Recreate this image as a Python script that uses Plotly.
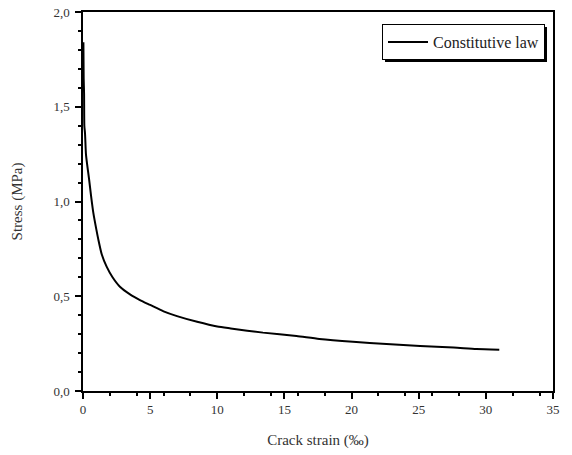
import plotly.graph_objects as go

crack_strain = [0.03, 0.05, 0.08, 0.1, 0.15, 0.22, 0.3, 0.45, 0.6, 0.77, 1.0, 1.14, 1.4, 1.76,
                2.2, 2.75, 3.5, 4.24, 5.0, 6.0, 7.0, 8.5, 10.0, 11.0, 13.4, 15.9, 17.6, 20.1,
                22.6, 25.1, 27.6, 29.3, 31.0]
stress = [1.84, 1.65, 1.57, 1.40, 1.36, 1.25, 1.20, 1.12, 1.03, 0.94, 0.85, 0.80, 0.72, 0.656,
          0.60, 0.55, 0.51, 0.48, 0.454, 0.42, 0.395, 0.365, 0.34, 0.33, 0.308, 0.29, 0.275, 0.26,
          0.248, 0.237, 0.229, 0.221, 0.218]

FONT = "Liberation Serif"
L, R, T, B = 83, 19, 12, 64
W, H = 572, 455
PW, PH = W - L - R, H - T - B


def px(x):
    return (x - L) / PW


def py(y):
    return (H - B - y) / PH


fig = go.Figure()
fig.add_trace(go.Scatter(x=crack_strain, y=stress, mode="lines", name="Constitutive law",
                         line=dict(color="black", width=2, shape="spline", smoothing=0.6)))

axis_common = dict(showline=True, linecolor="black", linewidth=1.5, mirror=True,
                   ticks="outside", ticklen=6, tickwidth=1.5, tickcolor="black",
                   showgrid=False, zeroline=False, automargin=False,
                   tickfont=dict(family=FONT, size=13, color="#333"),
                   minor=dict(ticks="outside", ticklen=3, tickwidth=1.5, tickcolor="black"))

fig.update_xaxes(range=[0, 35], tickvals=[0, 5, 10, 15, 20, 25, 30, 35],
                 title=dict(text="Crack strain (‰)", font=dict(family=FONT, size=15, color="#333"), standoff=18),
                 **axis_common)
fig.update_yaxes(range=[0, 2.0], tickvals=[0, 0.5, 1.0, 1.5, 2.0], tickformat=".1f",
                 ticklabelstandoff=3,
                 title=dict(text="Stress (MPa)", font=dict(family=FONT, size=15, color="#333"), standoff=27),
                 **axis_common)

# legend box: reference approx x 382..544, y 24..52
lx0, ly0 = 382, 24
fig.update_layout(
    width=W, height=H,
    margin=dict(l=L, r=R, t=T, b=B),
    paper_bgcolor="white", plot_bgcolor="white",
    separators=",.",
    showlegend=True,
    legend=dict(x=px(lx0), y=py(ly0), xanchor="left", yanchor="top",
                bgcolor="white", bordercolor="black", borderwidth=1,
                font=dict(family=FONT, size=16, color="#222"),
                itemwidth=40, tracegroupgap=0),
)
# legend drop shadow: offset rectangle behind the legend box
fig.add_shape(type="rect", xref="paper", yref="paper",
              x0=px(lx0 + 3), x1=px(547), y0=py(62), y1=py(ly0 + 3),
              fillcolor="black", line=dict(width=0), layer="above")

fig.write_html("out.html")
